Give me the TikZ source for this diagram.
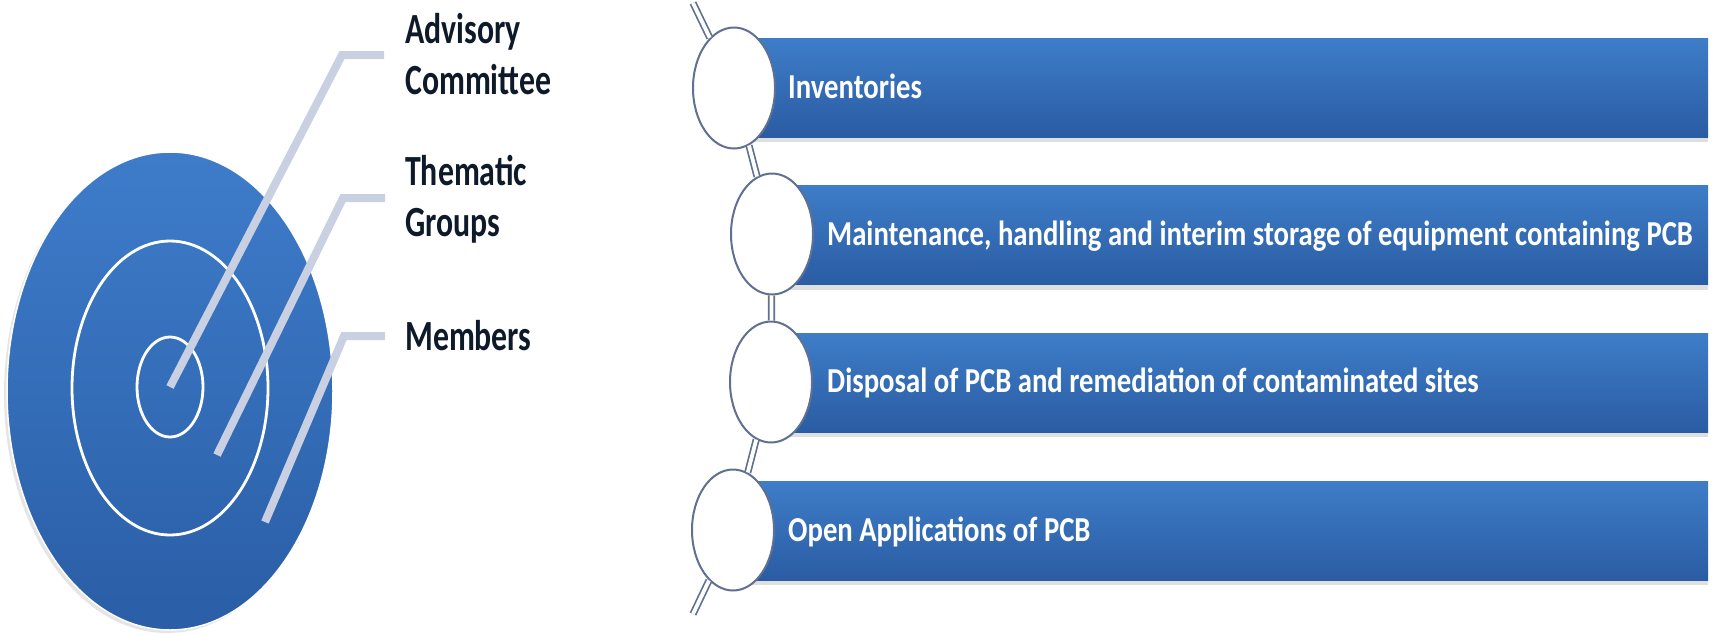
\documentclass[tikz,border=0pt]{standalone}
\usepackage{fontspec}
\newfontfamily\labfont{Carlito}[FakeStretch=0.74]
\newfontfamily\barfont{Carlito}[FakeStretch=0.82]
\usetikzlibrary{shapes.geometric,shadows}
\definecolor{barhi}{RGB}{62,125,200}
\definecolor{barlo}{RGB}{42,92,163}
\definecolor{dischi}{RGB}{62,124,202}
\definecolor{disclo}{RGB}{42,94,166}
\definecolor{leadc}{RGB}{200,208,226}
\definecolor{spinec}{RGB}{95,112,145}
\definecolor{labc}{RGB}{14,26,42}
\begin{document}
\begin{tikzpicture}[x=1pt,y=-1pt,
  barbox/.style={rectangle, minimum height=99pt, inner sep=0pt, draw=none,
    top color=barhi, bottom color=barlo,
    drop shadow={opacity=0.25, shadow xshift=0pt, shadow yshift=-5pt}},
  bead/.style={ellipse, minimum width=82pt, minimum height=121pt, inner sep=0pt,
    fill=white, draw=spinec, line width=2pt},
  spine/.style={draw=spinec, line width=1.7pt, double=white, double distance=3.8pt},
  bartext/.style={anchor=base west, inner sep=0pt, text=white,
    font=\barfont\bfseries\fontsize{35}{42}\selectfont},
  labtext/.style={anchor=base west, inner sep=0pt, text=labc, align=left,
    font=\labfont\bfseries\fontsize{43}{51}\selectfont},
  ringline/.style={ellipse, draw=white, line width=2.8pt, inner sep=0pt},
  leader/.style={draw=leadc, line width=8pt, line cap=butt, line join=miter}
]
\useasboundingbox (0,0) rectangle (1716,635);
\fill[white] (0,0) rectangle (1716,635);

% target: outer disc and two rings
\node[ellipse, minimum width=326pt, minimum height=478pt, inner sep=0pt,
  top color=dischi, bottom color=disclo, draw=white, line width=1.5pt,
  drop shadow={opacity=0.2, shadow xshift=-3pt, shadow yshift=-3pt}] (disc) at (170,391) {};
\node[ringline, minimum width=196pt, minimum height=294pt] (middle) at (170,388) {};
\node[ringline, minimum width=66pt, minimum height=100pt] (inner) at (170,387) {};

% leader lines from the labels into the rings
\coordinate (a1) at (384,55);
\coordinate (k1) at (342,55);
\coordinate (a2) at (385,198);
\coordinate (k2) at (343,198);
\coordinate (e2) at (217,455);
\coordinate (a3) at (385,336);
\coordinate (k3) at (344,336);
\coordinate (e3) at (265,522);
\draw[leader] (a1) -- (k1) -- (inner.center);
\draw[leader] (a2) -- (k2) -- (e2);
\draw[leader] (a3) -- (k3) -- (e3);

% labels (base anchor sits on the last line)
\node[labtext] (lab1) at (405,94) {Advisory\\Committee};
\node[labtext] (lab2) at (405,236) {Thematic\\Groups};
\node[labtext] (lab3) at (405,350) {Members};

% bars
\node[barbox, minimum width=974pt] (bar1) at (1221,87.5) {};
\node[barbox, minimum width=936pt] (bar2) at (1240,235) {};
\node[barbox, minimum width=937pt] (bar3) at (1239.5,382.5) {};
\node[barbox, minimum width=975pt] (bar4) at (1220.5,530.5) {};

\node[bartext] (t1) at (788,98) {Inventories};
\node[bartext] (t2) at (827,245) {Maintenance, handling and interim storage of equipment containing PCB};
\node[bartext] (t3) at (827,392) {Disposal of PCB and remediation of contaminated sites};
\node[bartext] (t4) at (788,541) {Open Applications of PCB};

% beads on the spine
\node[bead] (c1) at (734,88) {};
\node[bead] (c2) at (772,234) {};
\node[bead] (c3) at (771,382) {};
\node[bead] (c4) at (733,530) {};
\coordinate (stop) at (693,3);
\coordinate (sbot) at (693,614);
\draw[spine] (stop) -- (c1);
\draw[spine] (c1) -- (c2);
\draw[spine] (c2) -- (c3);
\draw[spine] (c3) -- (c4);
\draw[spine] (c4) -- (sbot);
\end{tikzpicture}
\end{document}
